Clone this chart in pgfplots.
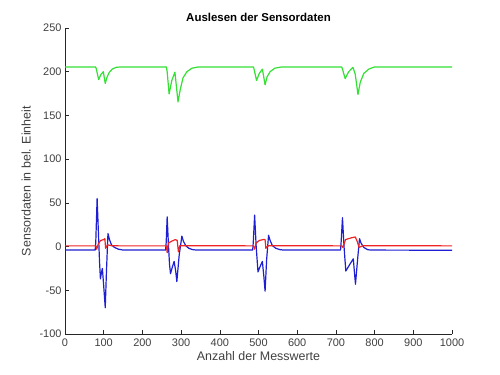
\documentclass[border=0pt]{standalone}
\usepackage{pgfplots}
\pgfplotsset{compat=1.18}
\usepackage{fontspec}
\setmainfont{Liberation Sans}
\definecolor{axgray}{RGB}{38,38,38}
\definecolor{lblgray}{RGB}{64,64,64}
\definecolor{mgreen}{RGB}{50,225,50}
\definecolor{mblue}{RGB}{30,30,210}
\definecolor{mred}{RGB}{240,35,35}
\begin{document}
\begin{tikzpicture}
\begin{axis}[
  scale only axis,
  width=387bp, height=306bp,
  xmin=0, xmax=1000, ymin=-100, ymax=250,
  axis x line*=bottom, axis y line*=left,
  axis line style={axgray, line width=0.6bp},
  xtick={0,100,...,1000}, ytick={-100,-50,0,50,100,150,200,250},
  tick align=inside, tick style={axgray, line width=0.6bp},
  major tick length=4bp,
  /pgf/number format/assume math mode=true,
  /pgf/number format/1000 sep={},
  tick label style={font=\fontsize{11}{13}\selectfont, text=lblgray},
  xticklabel style={yshift=-1bp},
  xlabel={Anzahl der Messwerte}, ylabel={Sensordaten in bel. Einheit},
  label style={font=\fontsize{12.5}{14}\selectfont, text=lblgray},
  xlabel style={yshift=2bp},
  ylabel style={yshift=2bp},
  title={\textbf{Auslesen der Sensordaten}},
  title style={font=\fontsize{11.5}{13}\selectfont, yshift=-3bp},
  every axis plot/.append style={line width=1.2bp, line join=round},
  clip=true,
]
\addplot[mblue] coordinates {
(0,-4) (78,-4) (79.5,5) (83,55) (86,20) (89,-15) (91.5,-37) (94,-30) (96.6,-25) (100,-45) (104,-70) (107,-30) (111,15) (115,8) (120,2) (128,-1) (138,-3) (150,-4)
(260,-4) (261.5,5) (264,34) (267,5) (270,-20) (272.6,-31) (277,-24) (282,-17) (286,-28) (289,-40) (295,-10) (302,12) (306,6) (312,1) (320,-2) (330,-3.5) (340,-4)
(485,-4) (486.5,5) (490,36) (494,0) (498.7,-29) (504,-23) (510,-17) (514,-35) (517,-51) (521,-15) (526,13) (530,7) (536,1) (545,-2) (555,-3.5) (565,-4)
(712,-4) (713.5,5) (717,33) (721,0) (725.6,-28) (735,-21) (745,-14) (748,-30) (750.6,-43) (756,-15) (761,9) (765,4) (772,-1) (782,-3.5) (790,-4) (1000,-4.2)
};
\addplot[mred] coordinates {
(0,0.8) (80,0.8) (82,-3) (86,3) (92,7) (100,8) (103,9) (105,-2) (110,2) (120,1) (140,0.8)
(262,0.8) (264,-7) (267,4) (275,6) (285,8) (290,7) (293,-6) (297,1) (310,1)
(487,0.8) (490,-3) (494,4) (502,7) (512,8) (517,8) (519,-2) (525,1)
(715,0.8) (718,-1) (725,8) (740,10) (750,11) (755,6) (760,-1) (770,1) (1000,0.8)
};
\addplot[mgreen] coordinates {
(0,205.5) (79,205.5) (81,203) (87,191) (93,197) (99,200) (104,186.5) (108,193) (114,199) (122,203) (132,205) (145,205.5)
(262,205.5) (264,200) (269,174.6) (276,190) (284,199.5) (292,165.5) (298,180) (305,193) (315,200) (328,204) (345,205.5)
(487,205.5) (489,202) (495,190) (502,198) (510,203) (517,185) (522,194) (530,200) (542,204) (560,205.5)
(715,205.5) (717,203) (724,192) (733,200) (744,205) (750,197) (757,174) (763,188) (772,198) (785,203) (800,205.5) (1000,205.5)
};
\end{axis}
\path (current axis.south west) ++(-65bp,-41bp) coordinate (bbA);
\path (current axis.north east) ++(48bp,28bp) coordinate (bbB);
\useasboundingbox (bbA) rectangle (bbB);
\end{tikzpicture}
\end{document}
